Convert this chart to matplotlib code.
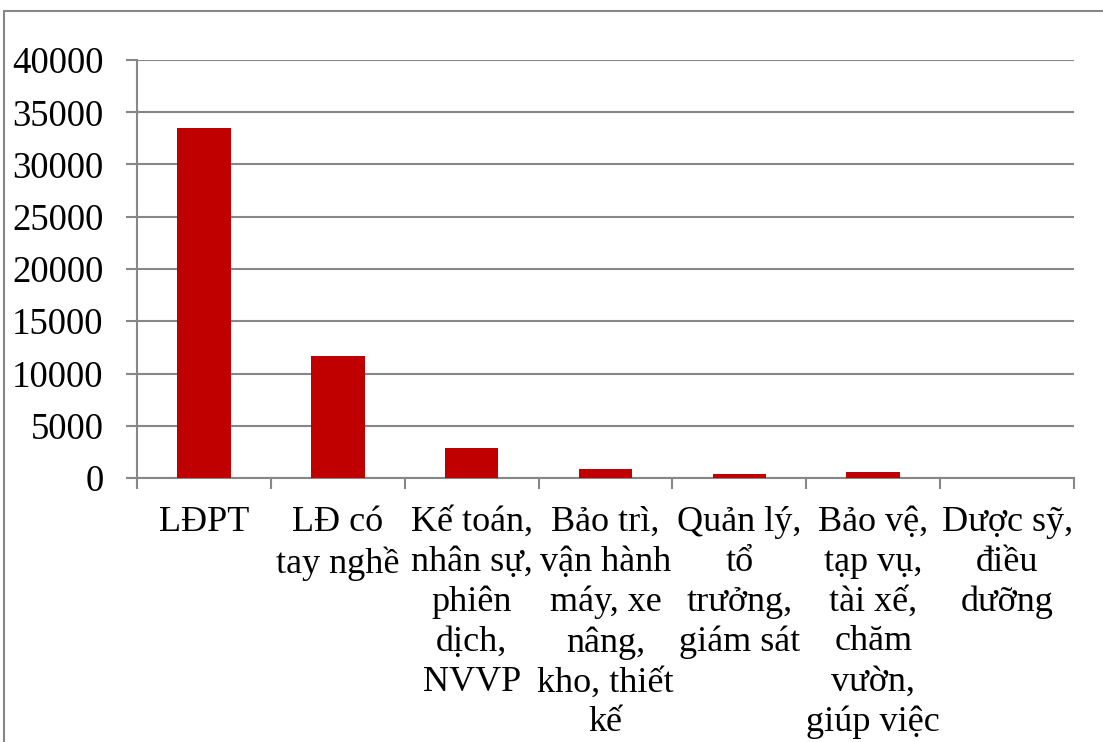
import numpy as np
from matplotlib import pyplot as plt
from matplotlib.patches import Rectangle

categories = ['LĐPT', 'LĐ có\ntay nghề', 'Kế toán,\nnhân sự,\nphiên\ndịch,\nNVVP',
              'Bảo trì,\nvận hành\nmáy, xe\nnâng,\nkho, thiết\nkế',
              'Quản lý,\ntổ\ntrưởng,\ngiám sát',
              'Bảo vệ,\ntạp vụ,\ntài xế,\nchăm\nvườn,\ngiúp việc',
              'Dược sỹ,\nđiều\ndưỡng']
values = [33500, 11700, 2850, 850, 420, 560, 20]
yticks = [0, 5000, 10000, 15000, 20000, 25000, 30000, 35000, 40000]

plt.rcParams['font.family'] = ['Liberation Serif', 'DejaVu Serif']
grey = '#878787'

fig = plt.figure(figsize=(11.03, 7.42), dpi=100)
ax = fig.add_axes([137/1103, 1 - 478/742, (1074-137)/1103, (478-60)/742])

# outer chart border (cut off on right and bottom in the original)
fig.patches.append(Rectangle((4/1103, -0.1), 1.2, 1 - 11/742 + 0.1,
                             transform=fig.transFigure, fill=False,
                             edgecolor=grey, linewidth=1.5))

x = np.arange(len(categories))
ax.bar(x, values, width=0.4, color='#C00000', zorder=3)

ax.set_xlim(-0.5, len(categories) - 0.5)
ax.set_ylim(0, 40000)
ax.set_yticks(yticks)
ax.set_yticklabels([str(v) for v in yticks])
ax.yaxis.grid(True, color=grey, linewidth=1.5)
ax.set_axisbelow(True)

ax.set_xticks(x)
ax.set_xticklabels(categories, linespacing=1.275, ha='center', multialignment='center')
ax.set_xticks(np.arange(len(categories) + 1) - 0.5, minor=True)
ax.tick_params(axis='x', which='major', length=0, pad=20, labelsize=26)
ax.tick_params(axis='x', which='minor', length=8, width=1.5, color=grey)
ax.tick_params(axis='y', length=8, width=1.5, color=grey, pad=16, labelsize=26.5)

for s in ['top', 'right']:
    ax.spines[s].set_visible(False)
for s in ['left', 'bottom']:
    ax.spines[s].set_color(grey)
    ax.spines[s].set_linewidth(1.5)

fig.savefig('out.png', dpi=100)
